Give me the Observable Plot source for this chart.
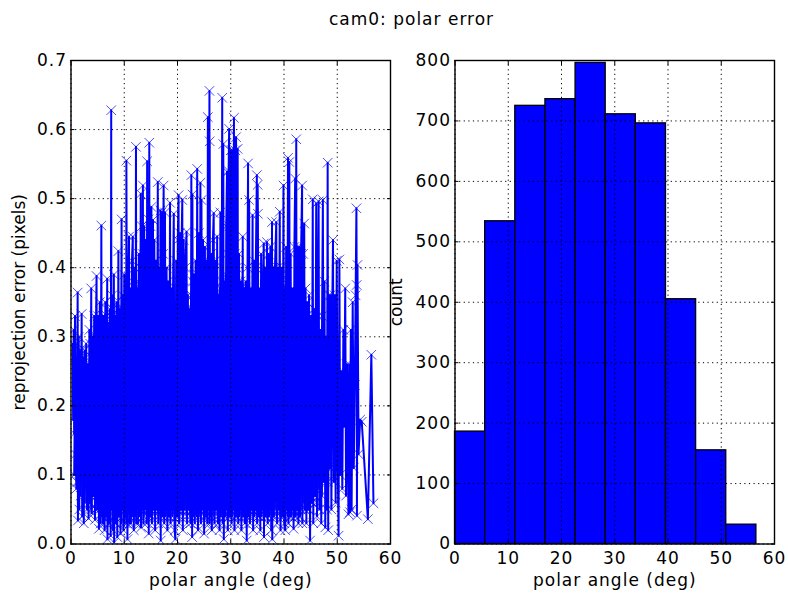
<!DOCTYPE html>
<html>
<head>
<meta charset="utf-8">
<script src="https://cdn.jsdelivr.net/npm/d3@7"></script>
<script src="https://cdn.jsdelivr.net/npm/@observablehq/plot@0.6"></script>
<style>
body{margin:0;background:#fff;width:788px;height:593px;overflow:hidden;font-family:"DejaVu Sans",sans-serif;color:#000}
#title{height:40px;line-height:38px;font-size:17px;letter-spacing:1px;text-align:center;padding-left:35px;box-sizing:border-box;width:788px}
#row{display:flex;width:788px}
</style>
</head>
<body>
<div id="title">cam0: polar error</div>
<div id="row"></div>
<script>
const xLabel = "polar angle (deg)";
const errorLabel = "reprojection error (pixels)";
const countLabel = "count";
const xTicks = [0,10,20,30,40,50,60];
const errorTicks = [0,0.1,0.2,0.3,0.4,0.5,0.6,0.7];
const countTicks = [0,100,200,300,400,500,600,700,800];

// histogram
const binEdges = [0,5.66,11.32,16.98,22.64,28.3,33.96,39.62,45.28,50.94,56.6];
const binCounts = [186,534,725,736,796,711,696,405,155,32];

// [polar angle, reprojection error] (x-sorted)
const samplesEdgeLeft = [
[0.3,0.29],[0.4,0.18],[0.5,0.31],[0.6,0.16],[0.75,0.33],[0.85,0.13],[1.0,0.27],[1.1,0.09],[1.25,0.364],[1.3,0.034],[1.45,0.30],[1.55,0.05],[1.7,0.28],[1.8,0.10],[2.0,0.333],[2.1,0.04],[2.25,0.27],[2.4,0.03],[2.55,0.28],[2.7,0.09],[2.85,0.29],[3.0,0.05],[3.15,0.26],[3.3,0.037],[3.45,0.31],[3.6,0.06],[3.8,0.37],[3.9,0.045],[4.05,0.30],[4.2,0.07],[4.35,0.33],[4.5,0.035],[4.65,0.29],[4.8,0.388],[4.9,0.05],[5.05,0.33],[5.25,0.022],[5.4,0.35],[5.55,0.03],[5.7,0.461],[5.8,0.04],[5.9,0.30]];
const samples6to16 = [
[6.0,0.03],[6.15,0.33],[6.3,0.02],[6.45,0.35],[6.6,0.04],[6.8,0.384],[6.85,0.007],[7.0,0.31],[7.15,0.03],[7.3,0.34],[7.45,0.012],[7.55,0.628],[7.6,0.05],[7.75,0.36],[7.9,0.02],[8.05,0.39],[8.1,0.002],[8.25,0.33],[8.4,0.03],[8.55,0.35],[8.7,0.01],[8.9,0.424],[9.0,0.04],[9.15,0.34],[9.3,0.015],[9.5,0.47],[9.55,0.05],[9.7,0.36],[9.85,0.02],[10.0,0.39],[10.1,0.03],[10.25,0.35],[10.35,0.04],[10.4,0.555],[10.6,0.007],[10.75,0.38],[10.9,0.445],[11.0,0.03],[11.15,0.37],[11.3,0.05],[11.45,0.41],[11.6,0.445],[11.8,0.02],[11.95,0.40],[12.1,0.04],[12.2,0.575],[12.3,0.06],[12.45,0.37],[12.6,0.03],[12.75,0.42],[12.9,0.05],[13.1,0.507],[13.15,0.024],[13.3,0.46],[13.4,0.05],[13.5,0.519],[13.6,0.03],[13.75,0.46],[13.9,0.06],[14.05,0.44],[14.2,0.03],[14.3,0.554],[14.4,0.05],[14.55,0.47],[14.6,0.015],[14.7,0.581],[14.8,0.04],[14.95,0.46],[15.1,0.488],[15.2,0.03],[15.4,0.469],[15.5,0.05],[15.65,0.44],[15.8,0.02],[15.95,0.41],[16.1,0.05]];
const samples16to26 = [
[16.3,0.524],[16.4,0.03],[16.55,0.40],[16.7,0.05],[16.8,0.483],[16.85,0.005],[17.0,0.48],[17.15,0.04],[17.3,0.42],[17.4,0.519],[17.5,0.03],[17.65,0.48],[17.8,0.05],[17.95,0.40],[18.1,0.02],[18.25,0.38],[18.4,0.04],[18.6,0.494],[18.7,0.03],[18.85,0.37],[19.0,0.05],[19.15,0.36],[19.3,0.478],[19.45,0.02],[19.6,0.007],[19.75,0.41],[19.9,0.04],[20.05,0.44],[20.2,0.505],[20.3,0.03],[20.45,0.45],[20.6,0.05],[20.75,0.43],[20.9,0.498],[21.0,0.02],[21.15,0.44],[21.3,0.05],[21.45,0.40],[21.7,0.452],[21.8,0.03],[21.95,0.36],[22.1,0.05],[22.25,0.34],[22.45,0.03],[22.6,0.534],[22.75,0.01],[22.8,0.506],[22.95,0.05],[23.1,0.39],[23.25,0.03],[23.4,0.41],[23.55,0.05],[23.7,0.543],[23.85,0.02],[24.0,0.45],[24.15,0.05],[24.3,0.523],[24.4,0.03],[24.5,0.498],[24.65,0.05],[24.8,0.44],[25.0,0.015],[25.15,0.43],[25.3,0.04],[25.45,0.41],[25.6,0.03],[25.7,0.618],[25.8,0.05],[26.0,0.656],[26.02,0.03]];
const samples26to36 = [
[26.05,0.583],[26.15,0.04],[26.3,0.42],[26.45,0.02],[26.65,0.44],[26.8,0.479],[26.95,0.03],[27.1,0.41],[27.25,0.05],[27.45,0.445],[27.6,0.03],[27.75,0.36],[27.9,0.02],[28.05,0.48],[28.2,0.05],[28.4,0.646],[28.5,0.03],[28.6,0.579],[28.7,0.007],[28.85,0.38],[29.0,0.04],[29.15,0.46],[29.3,0.539],[29.45,0.02],[29.6,0.54],[29.7,0.601],[29.85,0.04],[30.0,0.57],[30.15,0.03],[30.3,0.57],[30.45,0.05],[30.6,0.617],[30.7,0.02],[30.85,0.57],[31.0,0.589],[31.1,0.04],[31.3,0.572],[31.4,0.03],[31.55,0.42],[31.7,0.05],[31.85,0.38],[32.0,0.02],[32.25,0.445],[32.35,0.04],[32.5,0.37],[32.65,0.03],[32.8,0.38],[33.0,0.005],[33.15,0.40],[33.25,0.551],[33.35,0.04],[33.45,0.498],[33.6,0.03],[33.75,0.37],[33.9,0.05],[34.1,0.476],[34.2,0.02],[34.35,0.41],[34.5,0.05],[34.7,0.40],[34.9,0.534],[34.95,0.03],[35.05,0.52],[35.1,0.478],[35.25,0.04],[35.4,0.37],[35.55,0.02],[35.7,0.42],[35.85,0.05],[36.0,0.36]];
const samples36to46 = [
[36.2,0.435],[36.25,0.01],[36.4,0.40],[36.55,0.04],[36.8,0.437],[36.95,0.03],[37.1,0.42],[37.25,0.05],[37.45,0.43],[37.6,0.02],[37.75,0.466],[37.8,0.007],[37.95,0.40],[38.1,0.04],[38.3,0.40],[38.55,0.466],[38.7,0.03],[38.85,0.40],[39.0,0.05],[39.2,0.481],[39.35,0.02],[39.55,0.40],[39.7,0.04],[39.9,0.519],[40.05,0.03],[40.25,0.02],[40.4,0.43],[40.55,0.05],[40.75,0.559],[40.85,0.03],[41.0,0.553],[41.1,0.04],[41.25,0.42],[41.4,0.05],[41.6,0.37],[41.8,0.022],[41.95,0.43],[42.1,0.529],[42.2,0.04],[42.3,0.586],[42.4,0.05],[42.55,0.43],[42.7,0.03],[42.85,0.43],[43.0,0.04],[43.2,0.42],[43.4,0.519],[43.45,0.03],[43.6,0.42],[43.8,0.464],[43.9,0.05],[44.05,0.37],[44.2,0.03],[44.4,0.35],[44.55,0.05],[44.7,0.36],[44.9,0.005],[45.05,0.33],[45.2,0.06],[45.4,0.499],[45.5,0.03],[45.65,0.34],[45.85,0.07]];
const samplesEdgeRight = [
[46.05,0.493],[46.2,0.04],[46.35,0.33],[46.5,0.496],[46.65,0.05],[46.8,0.31],[47.0,0.03],[47.15,0.33],[47.3,0.498],[47.45,0.09],[47.6,0.38],[47.75,0.024],[47.9,0.30],[48.05,0.05],[48.2,0.552],[48.3,0.02],[48.45,0.36],[48.6,0.11],[48.75,0.36],[48.9,0.05],[49.05,0.33],[49.2,0.44],[49.35,0.09],[49.5,0.36],[49.7,0.06],[49.9,0.41],[50.1,0.11],[50.25,0.012],[50.4,0.412],[50.55,0.10],[50.75,0.25],[50.95,0.08],[51.15,0.31],[51.3,0.17],[51.5,0.37],[51.65,0.07],[51.85,0.26],[52.1,0.043],[52.25,0.26],[52.4,0.046],[52.55,0.31],[52.7,0.05],[52.9,0.35],[53.1,0.11],[53.3,0.23],[53.45,0.36],[53.6,0.486],[53.65,0.375],[53.7,0.041],[53.8,0.404],[54.0,0.13],[54.3,0.18],[54.6,0.177],[55.75,0.036],[56.4,0.274],[56.8,0.059]];
// the dense core of the cloud, read as its solid band
const samplesCoreLeft = [
[0.6,0.10],[0.8,0.27],[1.0,0.08],[1.2,0.29],[1.4,0.09],[1.6,0.26],[1.8,0.07],[2.0,0.28],[2.2,0.09],[2.4,0.25],[2.6,0.06],[2.8,0.27],[3.0,0.08],[3.2,0.26],[3.4,0.06],[3.6,0.29],[3.8,0.05],[4.0,0.27],[4.2,0.07],[4.4,0.30],[4.6,0.05],[4.8,0.28],[5.0,0.06],[5.2,0.31],[5.4,0.05],[5.6,0.30],[5.8,0.06]];
const samplesCoreMid = [
[6.0,0.33],[6.2,0.04],[6.4,0.31],[6.55,0.05],[6.75,0.33],[6.95,0.04],[7.1,0.32],[7.25,0.03],[7.4,0.33],[7.65,0.05],[7.85,0.34],[8.0,0.04],[8.15,0.32],[8.35,0.03],[8.5,0.33],[8.65,0.05],[8.85,0.34],[9.05,0.04],[9.25,0.33],[9.45,0.03],[9.65,0.34],[9.8,0.05],[9.95,0.33],[10.15,0.04],[10.3,0.34],[10.5,0.03],[10.7,0.35],[10.85,0.05],[11.05,0.36],[11.25,0.03],[11.4,0.35],[11.55,0.04],[11.75,0.36],[11.9,0.05],[12.05,0.37],[12.25,0.03],[12.4,0.36],[12.55,0.05],[12.7,0.38],[12.85,0.04],[13.05,0.40],[13.25,0.05],[13.45,0.42],[13.65,0.04],[13.85,0.41],[14.0,0.05],[14.15,0.42],[14.35,0.04],[14.5,0.40],[14.65,0.05],[14.85,0.42],[15.05,0.04],[15.25,0.40],[15.45,0.05],[15.6,0.38],[15.75,0.04],[15.9,0.38],[16.05,0.05],[16.25,0.37],[16.45,0.04],[16.6,0.37],[16.75,0.05],[16.95,0.38],[17.1,0.04],[17.25,0.36],[17.45,0.05],[17.6,0.37],[17.75,0.04],[17.9,0.36],[18.05,0.05],[18.2,0.35],[18.35,0.04],[18.55,0.36],[18.75,0.05],[18.9,0.34],[19.05,0.04],[19.2,0.34],[19.4,0.05],[19.55,0.35],[19.7,0.04],[19.85,0.37],[20.0,0.05],[20.15,0.38],[20.35,0.04],[20.5,0.38],[20.65,0.05],[20.85,0.37],[21.05,0.04],[21.2,0.37],[21.35,0.05],[21.55,0.35],[21.75,0.04],[21.9,0.34],[22.05,0.05],[22.2,0.33],[22.4,0.04],[22.55,0.36],[22.7,0.05],[22.9,0.38],[23.05,0.04],[23.2,0.37],[23.35,0.05],[23.5,0.38],[23.65,0.04],[23.8,0.39],[23.95,0.05],[24.1,0.38],[24.25,0.04],[24.45,0.38],[24.6,0.05],[24.75,0.38],[24.95,0.04],[25.1,0.39],[25.25,0.05],[25.4,0.37],[25.55,0.04],[25.75,0.38],[25.9,0.05]];
const samplesCoreRight = [
[26.1,0.38],[26.25,0.04],[26.4,0.37],[26.6,0.05],[26.75,0.38],[26.9,0.04],[27.05,0.37],[27.2,0.05],[27.4,0.36],[27.55,0.04],[27.7,0.36],[27.85,0.05],[28.0,0.37],[28.15,0.04],[28.35,0.38],[28.55,0.05],[28.8,0.37],[28.95,0.04],[29.1,0.39],[29.25,0.05],[29.4,0.42],[29.55,0.04],[29.75,0.46],[29.95,0.05],[30.1,0.45],[30.25,0.04],[30.4,0.44],[30.55,0.05],[30.75,0.42],[30.95,0.04],[31.15,0.40],[31.35,0.05],[31.5,0.38],[31.65,0.04],[31.8,0.37],[31.95,0.05],[32.15,0.36],[32.3,0.04],[32.45,0.36],[32.6,0.05],[32.75,0.37],[32.95,0.04],[33.1,0.36],[33.3,0.05],[33.55,0.36],[33.7,0.04],[33.85,0.35],[34.05,0.05],[34.25,0.36],[34.45,0.04],[34.6,0.36],[34.8,0.05],[35.0,0.36],[35.2,0.04],[35.35,0.35],[35.5,0.05],[35.65,0.36],[35.8,0.04],[35.95,0.35],[36.1,0.05],[36.3,0.36],[36.5,0.04],[36.7,0.37],[36.9,0.05],[37.05,0.37],[37.2,0.04],[37.4,0.38],[37.55,0.05],[37.7,0.38],[37.9,0.04],[38.05,0.38],[38.25,0.05],[38.45,0.39],[38.65,0.04],[38.8,0.39],[38.95,0.05],[39.15,0.38],[39.3,0.04],[39.5,0.38],[39.65,0.05],[39.85,0.37],[40.0,0.04],[40.2,0.37],[40.35,0.05],[40.5,0.37],[40.7,0.04],[40.9,0.36],[41.05,0.05],[41.2,0.36],[41.35,0.04],[41.55,0.35],[41.75,0.05],[41.9,0.36],[42.05,0.04],[42.25,0.36],[42.45,0.05],[42.65,0.35],[42.8,0.04],[42.95,0.35],[43.15,0.05],[43.35,0.34],[43.55,0.06],[43.75,0.33],[43.95,0.05],[44.15,0.33],[44.35,0.06],[44.5,0.31],[44.65,0.05],[44.85,0.32],[45.0,0.07],[45.15,0.31],[45.35,0.06],[45.6,0.30],[45.8,0.07],[46.0,0.30],[46.15,0.06],[46.3,0.29],[46.6,0.08],[46.9,0.29],[47.1,0.07],[47.4,0.28],[47.7,0.10],[47.95,0.28],[48.25,0.09],[48.5,0.29],[48.8,0.11],[49.1,0.27],[49.45,0.12],[49.8,0.26]];

const errorSamples = [...samplesEdgeLeft, ...samples6to16, ...samples16to26, ...samples26to36, ...samples36to46, ...samplesEdgeRight];
const coreSamples = [...samplesCoreLeft, ...samplesCoreMid, ...samplesCoreRight];
const bars = binCounts.map((count, i) => ({x1: binEdges[i], x2: binEdges[i + 1], count}));

const blue = "#0000ff";
const fontStyle = {fontSize: "17px", letterSpacing: "1px", fontFamily: "DejaVu Sans", color: "#000", background: "transparent", overflow: "visible"};
const gridDash = "1.2,3.4";

function frameMarks(yTicks, yFormat, yLabelText, labelOffset, tickPad) {
  return [
    Plot.gridX(xTicks, {stroke: "#000", strokeOpacity: 1, strokeWidth: 1, strokeDasharray: gridDash}),
    Plot.gridY(yTicks, {stroke: "#000", strokeOpacity: 1, strokeWidth: 1, strokeDasharray: gridDash}),
    Plot.frame({stroke: "#000", strokeWidth: 1.4}),
    Plot.axisX({ticks: xTicks, anchor: "bottom", tickSize: -4, tickPadding: 12, stroke: "#000", strokeWidth: 1, label: xLabel, labelAnchor: "center", labelArrow: "none", labelOffset: 42}),
    Plot.axisX({ticks: xTicks, anchor: "top", tickSize: -4, stroke: "#000", strokeWidth: 1, tickFormat: () => "", label: null}),
    Plot.axisY({ticks: yTicks, anchor: "left", tickSize: -4, tickPadding: tickPad, stroke: "#000", strokeWidth: 1, tickFormat: yFormat, label: yLabelText, labelAnchor: "center", labelArrow: "none", labelOffset}),
    Plot.axisY({ticks: yTicks, anchor: "right", tickSize: -4, stroke: "#000", strokeWidth: 1, tickFormat: () => "", label: null})
  ];
}

const left = Plot.plot({
  width: 394, height: 553,
  marginLeft: 70.5, marginRight: 4, marginTop: 20, marginBottom: 49.5,
  style: fontStyle,
  x: {domain: [0, 60]},
  y: {domain: [0, 0.7]},
  marks: [
    Plot.line(coreSamples, {x: d => d[0], y: d => d[1], stroke: blue, strokeWidth: 2, clip: true}),
    Plot.dot(coreSamples, {x: d => d[0], y: d => d[1], symbol: "times", r: 4.4, stroke: blue, strokeWidth: 0.7, fill: "none", clip: true}),
    Plot.line(errorSamples, {x: d => d[0], y: d => d[1], stroke: blue, strokeWidth: 2, clip: true}),
    Plot.dot(errorSamples, {x: d => d[0], y: d => d[1], symbol: "times", r: 4.4, stroke: blue, strokeWidth: 0.7, fill: "none", clip: true}),
    ...frameMarks(errorTicks, d3.format(".1f"), errorLabel, 58, 8)
  ]
});

const right = Plot.plot({
  width: 394, height: 553,
  marginLeft: 60.5, marginRight: 14, marginTop: 20, marginBottom: 49.5,
  style: fontStyle,
  x: {domain: [0, 60]},
  y: {domain: [0, 800]},
  marks: [
    Plot.rectY(bars, {x1: "x1", x2: "x2", y: "count", fill: blue, stroke: "#000", strokeWidth: 1.3}),
    ...frameMarks(countTicks, d => String(d), countLabel, 65, 8)
  ]
});

document.getElementById("row").append(left, right);
// vertical labels in the reference are not widened like the horizontal text
for (const t of document.querySelectorAll("svg text")) {
  if (t.textContent === errorLabel || t.textContent === countLabel) t.style.letterSpacing = "0";
}
</script>
</body>
</html>
